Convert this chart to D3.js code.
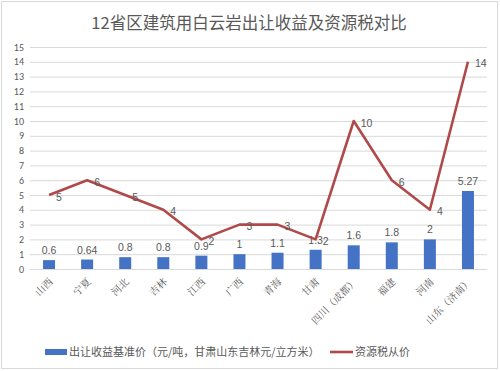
<!DOCTYPE html>
<html lang="zh">
<head>
<meta charset="utf-8">
<title>12省区建筑用白云岩出让收益及资源税对比</title>
<script src="https://d3js.org/d3.v7.min.js"></script>
<style>
  body{margin:0;background:#fff;font-family:"Noto Sans CJK SC","Noto Sans",sans-serif;}
  svg text{fill:#595959;}
</style>
</head>
<body>
<div id="chart"></div>
<script>
// chart data
var provinces = ["山西","宁夏","河北","吉林","江西","广西","青海","甘肃","四川（成都）","福建","河南","山东（济南）"]
var benchmark = [0.6,0.64,0.8,0.8,0.9,1,1.1,1.3,1.6,1.8,2,5.27]
var resourceTax = [5,6,5,4,2,3,3,2,10,6,4,14]
var yTicks = d3.range(0,16)

var w = 500, h = 371
var svg = d3.select("#chart").append("svg").attr("width",w).attr("height",h)

// outer frame
svg.append("rect").attr("x",1.5).attr("y",1.5).attr("width",496).attr("height",367)
    .attr("fill","#fff").attr("stroke","#d9d9d9")

svg.append("text").attr("x",249).attr("y",29).attr("text-anchor","middle")
    .style("font-size","16.5px").text("12省区建筑用白云岩出让收益及资源税对比")

var xScale = d3.scaleBand().domain(d3.range(provinces.length)).range([30,487])
var yScale = d3.scaleLinear().domain([0,15]).range([269,47])

// grid + y labels
svg.selectAll("line.grid").data(yTicks).enter().append("line")
    .attr("class","grid")
    .attr("x1",30).attr("x2",487)
    .attr("y1",function(d){return yScale(d)+0.5})
    .attr("y2",function(d){return yScale(d)+0.5})
    .attr("stroke","#d9d9d9").attr("stroke-width",1)

svg.selectAll("text.ytick").data(yTicks).enter().append("text")
    .attr("class","ytick")
    .attr("x",24).attr("y",function(d){return yScale(d)})
    .attr("dy","0.35em").attr("text-anchor","end")
    .style("font-size","10px").style("font-family","Calibri,'Liberation Sans',sans-serif")
    .text(function(d){return d})

var bw = 12
svg.selectAll("rect.bar").data(benchmark).enter().append("rect")
    .attr("class","bar")
    .attr("x",function(d,i){return xScale(i)+xScale.bandwidth()/2-bw/2})
    .attr("y",function(d){return yScale(d)})
    .attr("width",bw)
    .attr("height",function(d){return yScale(0)-yScale(d)})
    .attr("fill","#4472c4")

svg.selectAll("text.barlbl").data(benchmark).enter().append("text")
    .attr("class","barlbl")
    .attr("x",function(d,i){return xScale(i)+xScale.bandwidth()/2})
    .attr("y",function(d){return yScale(d)-6})
    .attr("text-anchor","middle")
    .style("font-size","10.5px").style("font-family","'Liberation Sans',sans-serif")
    .text(function(d){return d})

var line = d3.line()
    .x(function(d,i){return xScale(i)+xScale.bandwidth()/2})
    .y(function(d){return yScale(d)})
svg.append("path").datum(resourceTax).attr("d",line)
    .attr("fill","none").attr("stroke","#b04a4a").attr("stroke-width",2.6)
    .attr("stroke-linejoin","round")

svg.selectAll("text.linelbl").data(resourceTax).enter().append("text")
    .attr("class","linelbl")
    .attr("x",function(d,i){return xScale(i)+xScale.bandwidth()/2+7})
    .attr("y",function(d){return yScale(d)+2})
    .attr("dy","0.35em")
    .style("font-size","10.5px").style("font-family","'Liberation Sans',sans-serif")
    .text(function(d){return d})

// category labels, rotated
svg.selectAll("text.cat").data(provinces).enter().append("text")
    .attr("class","cat")
    .attr("transform",function(d,i){
        var cx = xScale(i)+xScale.bandwidth()/2+2
        return "translate("+cx+",280) rotate(-45)"
    })
    .attr("text-anchor","end").attr("dy","0.35em")
    .style("font-size","10px").style("font-family","'Noto Serif CJK SC','Noto Sans CJK SC',serif")
    .text(function(d){return d})

// legend
var lg = svg.append("g").attr("transform","translate(0,352)")
lg.append("rect").attr("x",45).attr("y",-3).attr("width",22).attr("height",6).attr("fill","#4472c4")
lg.append("text").attr("x",69).attr("dy","0.35em").style("font-size","11px")
    .text("出让收益基准价（元/吨，甘肃山东吉林元/立方米）")
lg.append("line").attr("x1",330).attr("x2",353).attr("y1",0).attr("y2",0)
    .attr("stroke","#b04a4a").attr("stroke-width",2.6)
lg.append("text").attr("x",355).attr("dy","0.35em").style("font-size","11px").text("资源税从价")
</script>
</body>
</html>
